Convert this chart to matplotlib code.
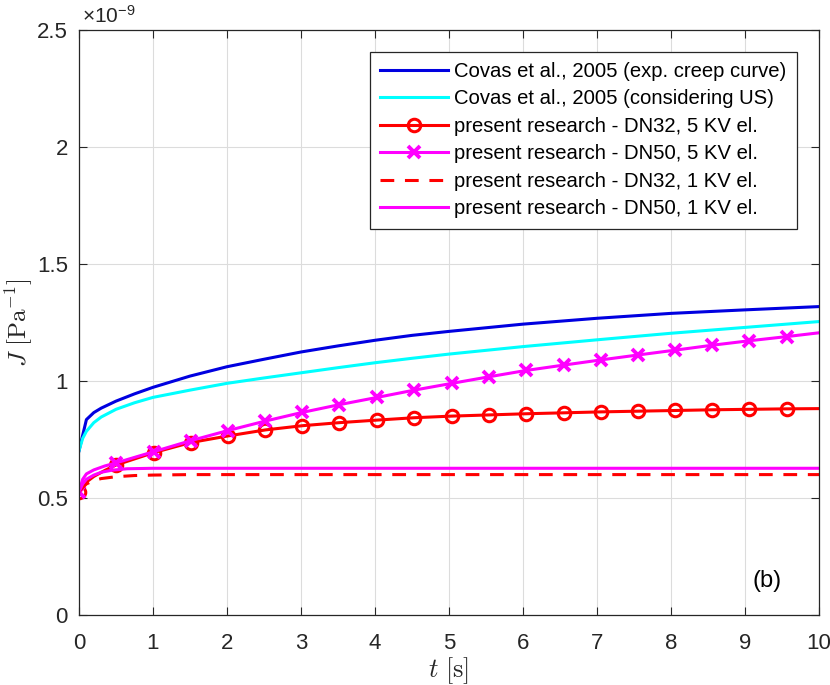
import matplotlib
matplotlib.use("Agg")
import matplotlib.pyplot as plt

plt.rcParams['font.family'] = ['Liberation Sans', 'DejaVu Sans']
plt.rcParams['mathtext.fontset'] = 'custom'
plt.rcParams['mathtext.rm'] = 'Liberation Sans'
plt.rcParams['mathtext.it'] = 'Liberation Sans:italic'

# ---- data (J in units of 1e-9 Pa^-1) ----
t_blue = [0, 0.1, 0.2, 0.3, 0.5, 0.75, 1, 1.5, 2, 2.5, 3, 3.5, 4, 4.5, 5, 6, 7, 8, 9, 10]
J_blue = [0.702, 0.835, 0.865, 0.884, 0.914, 0.945, 0.973, 1.021, 1.061, 1.093, 1.124,
          1.150, 1.174, 1.195, 1.212, 1.243, 1.268, 1.289, 1.304, 1.318]

t_cyan = [0, 0.05, 0.1, 0.2, 0.3, 0.5, 0.75, 1, 1.5, 2, 2.5, 3, 3.5, 4, 4.5, 5, 6, 7, 8, 9, 10]
J_cyan = [0.702, 0.755, 0.785, 0.822, 0.846, 0.879, 0.907, 0.930, 0.961, 0.990, 1.013,
          1.035, 1.057, 1.078, 1.097, 1.115, 1.147, 1.176, 1.204, 1.229, 1.254]

t_5kv = [0, 0.05, 0.1, 0.2, 0.35, 0.50, 1.01, 1.51, 2.01, 2.52, 3.02, 3.52, 4.03, 4.53,
         5.04, 5.54, 6.04, 6.55, 7.05, 7.55, 8.06, 8.56, 9.06, 9.57, 10]
J_dn32_5 = [0.527, 0.550, 0.568, 0.592, 0.618, 0.641, 0.694, 0.737, 0.765, 0.791, 0.809,
            0.822, 0.833, 0.843, 0.850, 0.855, 0.860, 0.864, 0.868, 0.871, 0.874, 0.877,
            0.879, 0.881, 0.882]
J_dn50_5 = [0.527, 0.580, 0.603, 0.620, 0.637, 0.650, 0.698, 0.745, 0.788, 0.829, 0.866,
            0.899, 0.930, 0.961, 0.990, 1.018, 1.045, 1.068, 1.090, 1.111, 1.132, 1.153,
            1.172, 1.190, 1.206]
marker_idx = [0, 5, 6, 7, 8, 9, 10, 11, 12, 13, 14, 15, 16, 17, 18, 19, 20, 21, 22, 23]

t_dn32_1 = [0, 0.05, 0.1, 0.2, 0.3, 0.5, 0.75, 1, 1.5, 10]
J_dn32_1 = [0.527, 0.545, 0.560, 0.575, 0.583, 0.591, 0.596, 0.598, 0.600, 0.600]

t_dn50_1 = [0, 0.05, 0.1, 0.2, 0.3, 0.45, 0.65, 1.0, 10]
J_dn50_1 = [0.527, 0.560, 0.580, 0.598, 0.610, 0.619, 0.625, 0.627, 0.627]

labels = ['Covas et al., 2005 (exp. creep curve)',
          'Covas et al., 2005 (considering US)',
          'present research - DN32, 5 KV el.',
          'present research - DN50, 5 KV el.',
          'present research - DN32, 1 KV el.',
          'present research - DN50, 1 KV el.']

xticks = [0, 1, 2, 3, 4, 5, 6, 7, 8, 9, 10]
yticks = [0, 0.5, 1, 1.5, 2, 2.5]
ytick_labels = ['0', '0.5', '1', '1.5', '2', '2.5']

fig = plt.figure(figsize=(8.3, 6.85), dpi=100)
ax = fig.add_axes([79/830, 1-615/685, 740/830, 585/685])

lw = 2.2
ax.plot(t_blue, J_blue, color='#0000e0', lw=lw, label=labels[0])
ax.plot(t_cyan, J_cyan, color='#00ffff', lw=lw, label=labels[1])
ax.plot(t_5kv, J_dn32_5, color='#ff0000', lw=lw, marker='o', markersize=9,
        markerfacecolor='none', markeredgewidth=2.2, markevery=marker_idx, label=labels[2])
ax.plot(t_5kv, J_dn50_5, color='#ff00ff', lw=lw, marker='x', markersize=8,
        markeredgewidth=2.8, markevery=marker_idx, label=labels[3])
ax.plot(t_dn32_1, J_dn32_1, color='#ff0000', lw=lw, ls=(0, (4.5, 3.5)), label=labels[4])
ax.plot(t_dn50_1, J_dn50_1, color='#ff00ff', lw=lw, label=labels[5])

ax.set_xlim(0, 10)
ax.set_ylim(0, 2.5)
ax.set_xticks(xticks)
ax.set_yticks(yticks)
ax.set_yticklabels(ytick_labels)
ax.grid(True, color='#dcdcdc', lw=0.8)
ax.set_axisbelow(True)
ax.tick_params(direction='in', top=True, right=True, labelsize=16,
               colors='#262626', length=6, width=0.8)
ax.tick_params(axis='x', pad=13)
ax.tick_params(axis='y', pad=8)
for s in ax.spines.values():
    s.set_color('#262626')
    s.set_linewidth(0.9)

ax.set_xlabel(r'$t\ [\mathrm{s}]$', fontsize=19, math_fontfamily='cm', color='#262626', labelpad=1)
ax.set_ylabel(r'$J\ [\mathrm{Pa}^{-1}]$', fontsize=18, math_fontfamily='cm', color='#262626')
ax.yaxis.set_label_coords(-0.060, 0.5)

ax.text(0.004, 1.006, r'$\times\mathregular{10^{-9}}$', transform=ax.transAxes,
        ha='left', va='bottom', fontsize=15, color='#262626')
ax.text(9.3, 0.145, '(b)', fontsize=17, ha='center', va='center', color='black')

leg = ax.legend(loc='upper right', bbox_to_anchor=(0.970, 0.963), fontsize=14.6,
                handlelength=3.35, frameon=True, fancybox=False, edgecolor='#262626',
                framealpha=1, borderpad=0.5, labelspacing=0.42, handletextpad=0.3,
                borderaxespad=0)
leg.get_frame().set_linewidth(0.9)

fig.savefig('out.png', dpi=100)
